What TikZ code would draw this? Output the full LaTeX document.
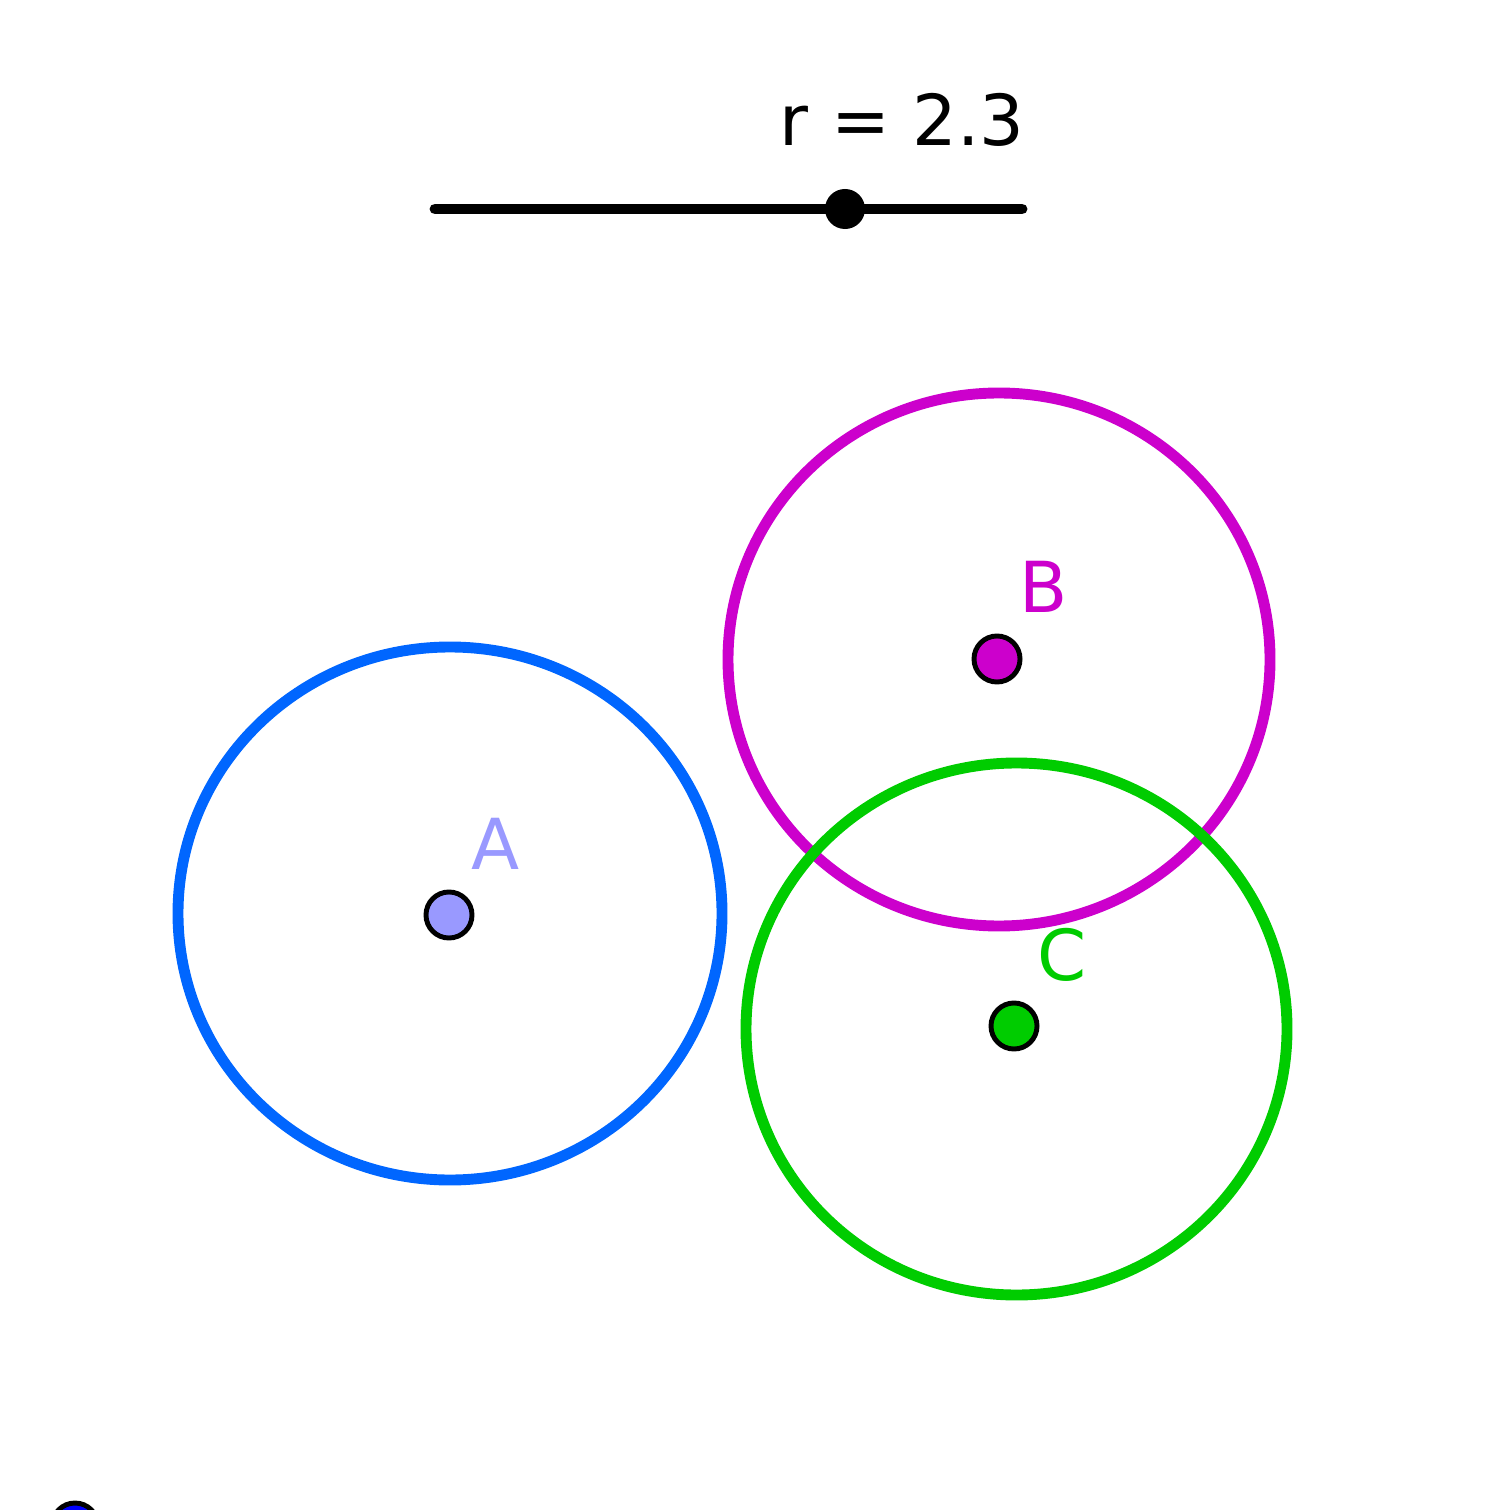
\documentclass[tikz,border=0pt]{standalone}
\usepackage{fontspec}
\setmainfont{DejaVu Sans}
\usepackage{tikz}
\usetikzlibrary{positioning}

\definecolor{ablue}{HTML}{0066FF}
\definecolor{bmag}{HTML}{CC00CC}
\definecolor{cgreen}{HTML}{00CC00}
\definecolor{apoint}{HTML}{9999FF}

\begin{document}
\begin{tikzpicture}[
    x=0.01cm, y=-0.01cm,
    circ/.style={line width=3.1pt},
    pt/.style={circle, draw=black, line width=1.4pt, minimum size=0.46cm, inner sep=0pt},
    lbl/.style={font=\fontsize{20}{24}\selectfont, inner sep=0pt},
    slider/.style={line width=3.1pt, line cap=round}
]
    \useasboundingbox (0,0) rectangle (1510,1510);
    \clip (0,0) rectangle (1510,1510);

    % slider
    \coordinate (s0) at (435,209);
    \coordinate (s1) at (1022,209);
    \draw[slider] (s0) -- (s1);
    \node[circle, fill=black, minimum size=0.4cm, inner sep=0pt] (knob) at (845,209) {};
    \node[lbl, anchor=base] (rval) at (902,146) {r = 2.3};

    % circles
    \draw[circ, ablue] (450,913.5) ellipse (272 and 266.5);
    \draw[circ, bmag] (999,659.5) ellipse (271 and 266.5);
    \draw[circ, cgreen] (1016.5,1029) ellipse (270.5 and 266);

    % points
    \node[pt, fill=apoint] (A) at (449,915) {};
    \node[pt, fill=bmag] (B) at (997,659) {};
    \node[pt, fill=cgreen] (C) at (1014,1026) {};
    \node[pt, fill=blue] (D) at (75,1526) {};

    \node[lbl, apoint, anchor=base] (la) at (496,869) {A};
    \node[lbl, bmag, anchor=base] (lb) at (1044,613) {B};
    \node[lbl, cgreen, anchor=base] (lc) at (1062,980) {C};
\end{tikzpicture}
\end{document}
